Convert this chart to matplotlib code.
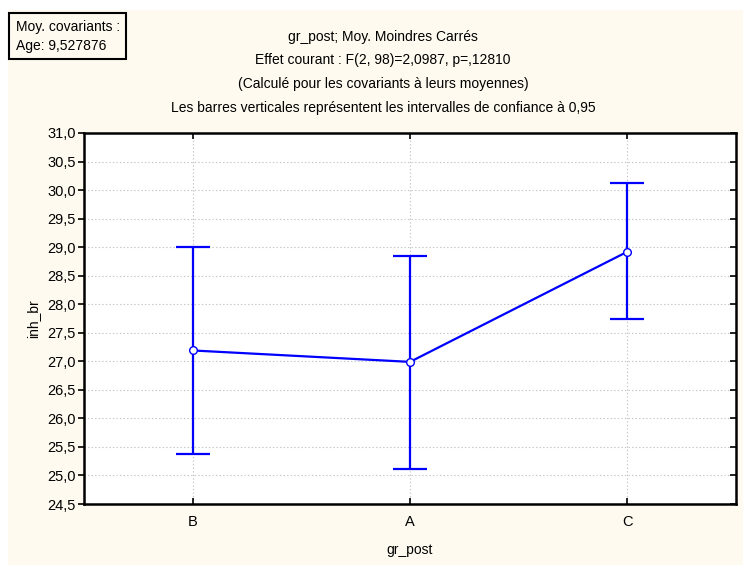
import numpy as np
import matplotlib
matplotlib.use("Agg")
import matplotlib.pyplot as plt
from matplotlib.patches import Rectangle

plt.rcParams['font.family'] = ['Liberation Sans', 'DejaVu Sans']

# data
groups = ["B", "A", "C"]
means = [27.19, 26.99, 28.92]
lower = [25.38, 25.12, 27.74]
upper = [29.00, 28.84, 30.12]

yticks = np.arange(24.5, 31.01, 0.5)
ytick_labels = [f"{v:.1f}".replace(".", ",") for v in yticks]

title_lines = [
    "gr_post; Moy. Moindres Carrés",
    "Effet courant : F(2, 98)=2,0987, p=,12810",
    "(Calculé pour les covariants à leurs moyennes)",
    "Les barres verticales représentent les intervalles de confiance à 0,95",
]
cov_lines = ["Moy. covariants :", "Age: 9,527876"]

cream = "#FEFAEF"
blue = "#0000FF"
W, H = 743, 565

fig = plt.figure(figsize=(7.43, 5.65), dpi=100, facecolor="white")
# cream panel with a thin white strip on top and left
fig.patches.append(Rectangle((8 / W, 0), 1, (H - 10) / H,
                             transform=fig.transFigure, facecolor=cream,
                             edgecolor="none", zorder=-10))

ax = fig.add_axes([84 / W, 61 / H, (736 - 84) / W, (504 - 133) / H])
ax.set_facecolor("white")

x = np.arange(len(groups))
m = np.array(means)
err = np.vstack([m - np.array(lower), np.array(upper) - m])

ax.errorbar(x, m, yerr=err, fmt="none", ecolor=blue, elinewidth=1.6,
            capsize=12, capthick=1.6, zorder=3)
ax.plot(x, m, color=blue, lw=1.6, marker="o", markersize=5.5,
        markerfacecolor="white", markeredgecolor=blue, markeredgewidth=1.0,
        zorder=4)

ax.set_xlim(-0.5, 2.5)
ax.set_ylim(24.5, 31.0)
ax.set_xticks(x)
ax.set_xticklabels(groups, fontsize=10.5)
ax.set_yticks(yticks)
ax.set_yticklabels(ytick_labels, fontsize=10.5)

ax.grid(True, color="#C4C4C4", linestyle=(0, (1.2, 2)), linewidth=0.8)
ax.set_axisbelow(True)

for s in ax.spines.values():
    s.set_linewidth(1.8)
    s.set_color("black")

ax.tick_params(axis="y", left=True, right=True, length=4, width=1.2, pad=2)
ax.tick_params(axis="x", top=True, bottom=True, direction="in", length=4,
               width=1.2, pad=8)

# left ticks point out, right ticks point in
for t in ax.yaxis.get_major_ticks():
    t.tick1line.set_marker(matplotlib.lines.TICKLEFT)
    t.tick2line.set_marker(matplotlib.lines.TICKLEFT)

ax.set_ylabel("inh_br", fontsize=10, labelpad=5)
ax.set_xlabel("gr_post", fontsize=10, labelpad=10)

title_y = [37, 60, 84, 108]
for line, yy in zip(title_lines, title_y):
    fig.text(383 / W, 1 - yy / H, line, ha="center", va="center",
             fontsize=10)

# covariate box in the top-left corner
fig.patches.append(Rectangle((9 / W, 1 - 59 / H), (126 - 9) / W, 46 / H,
                             transform=fig.transFigure, facecolor=cream,
                             edgecolor="black", linewidth=1.5, zorder=5))
for line, yy in zip(cov_lines, [27, 46]):
    fig.text(16 / W, 1 - yy / H, line, ha="left", va="center",
             fontsize=10, zorder=6)

fig.savefig("out.png", dpi=100, facecolor=fig.get_facecolor())
